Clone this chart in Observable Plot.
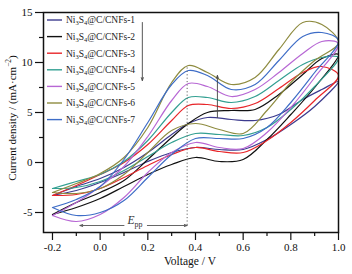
<!DOCTYPE html>
<html><head><meta charset="utf-8">
<script src="https://cdn.jsdelivr.net/npm/d3@7"></script>
<script src="https://cdn.jsdelivr.net/npm/@observablehq/plot@0.6"></script>
<style>body{margin:0;background:#fff} svg{display:block}</style>
</head><body><div id="chart"></div>
<script>
// Series
const seriesNames = ["Ni3S4@C/CNFs-1","Ni3S4@C/CNFs-2","Ni3S4@C/CNFs-3","Ni3S4@C/CNFs-4","Ni3S4@C/CNFs-5","Ni3S4@C/CNFs-6","Ni3S4@C/CNFs-7"];
const seriesColors = ["#3d3b8e","#111111","#e8262a","#33a092","#b767d4","#8e8b3f","#3e6dc7"];

// Forward (upper) branch voltages, V
const upperV = [-0.2,-0.1,0,0.1,0.2,0.3,0.37,0.45,0.55,0.65,0.75,0.85,0.93,1.0];
// Reverse (lower) branch voltages, V
const lowerV = [1.0,0.9,0.8,0.7,0.6,0.5,0.4,0.3,0.2,0.1,0,-0.1,-0.2];

// Current density, mA/cm2
const up1 = [-3.3,-2.4,-1.6,-0.5,1.0,2.8,3.9,4.5,4.3,4.2,4.8,6.3,7.3,8.1];
const up2 = [-5.2,-4.0,-3.0,-1.8,0.3,2.5,3.9,5.0,5.2,5.3,6.8,8.8,10.4,10.8];
const up3 = [-3.3,-2.3,-1.2,0.0,1.8,4.2,5.7,5.8,5.4,5.9,7.4,9.0,9.6,8.7];
const up4 = [-2.6,-1.9,-1.2,0.1,2.2,5.0,6.5,6.5,6.0,6.6,8.2,9.8,10.5,10.5];
const up5 = [-5.3,-4.0,-2.4,-0.4,2.6,6.2,7.9,7.6,6.6,7.3,9.0,10.9,12.1,11.9];
const up6 = [-3.0,-2.1,-1.1,0.5,3.5,8.0,9.7,9.0,7.8,8.5,11.3,14.0,13.8,12.0];
const up7 = [-4.5,-3.7,-2.4,0.3,4.0,7.8,9.2,8.7,7.3,7.8,10.2,12.6,13.0,12.2];

const dn1 = [8.1,5.6,3.8,2.3,1.3,1.3,1.5,1.0,0.1,-1.0,-2.0,-2.8,-3.3];
const dn2 = [10.8,7.5,4.8,2.3,0.3,0.1,0.5,-0.2,-1.2,-2.4,-3.6,-4.5,-5.2];
const dn3 = [8.7,6.2,4.0,2.2,1.0,1.1,1.5,0.8,-0.3,-1.5,-2.6,-3.2,-3.3];
const dn4 = [10.5,7.6,5.3,3.5,2.7,2.8,2.9,2.0,0.6,-0.8,-1.9,-2.5,-2.6];
const dn5 = [11.9,8.5,5.5,3.0,1.4,1.5,2.0,1.0,-1.0,-3.5,-5.2,-5.9,-5.3];
const dn6 = [12.0,10.2,8.0,5.2,2.9,3.3,3.9,3.2,1.0,-1.2,-2.6,-3.1,-3.0];
const dn7 = [12.2,9.0,6.0,3.5,2.4,2.4,2.4,0.8,-1.5,-3.8,-5.0,-5.3,-4.5];

// Annotations
const eppV = [-0.085, 0.365];      // E_pp arrow ends
const eppLevel = [-6.3];           // E_pp arrow level
const peakLine = [0.365, -6.3, 9.7]; // dotted line x, y1, y2
const trendArrows = [
  {x1: 0.177, y1: 14.0, x2: 0.177, y2: 8.2},
  {x1: 0.492, y1: 4.5, x2: 0.492, y2: 8.7}
];

// Ticks
const xTicks = [-0.2,0,0.2,0.4,0.6,0.8,1.0];
const xMinor = [-0.1,0.1,0.3,0.5,0.7,0.9];
const yTicks = [-5,0,5,10,15];
const yMinor = [-2.5,2.5,7.5,12.5];

const ups = [up1,up2,up3,up4,up5,up6,up7];
const dns = [dn1,dn2,dn3,dn4,dn5,dn6,dn7];
const rows = [];
seriesNames.forEach((s, k) => {
  upperV.forEach((v, j) => rows.push({s, v, i: ups[k][j]}));
  lowerV.forEach((v, j) => { if (j > 0) rows.push({s, v, i: dns[k][j]}); });
});

const eppArrows = [
  {x1: 0.10, y1: eppLevel[0], x2: eppV[0], y2: eppLevel[0]},
  {x1: 0.198, y1: eppLevel[0], x2: eppV[1], y2: eppLevel[0]}
];

const plot = Plot.plot({
  width: 352, height: 274,
  marginLeft: 43, marginRight: 14, marginTop: 12, marginBottom: 42,
  style: {fontFamily: "Liberation Serif, Times New Roman, serif", fontSize: "11px", color: "#111", background: "#fff"},
  x: {domain: [-0.2377, 1.0]},
  y: {domain: [-7, 15]},
  color: {domain: seriesNames, range: seriesColors},
  marks: [
    Plot.axisX({ticks: xTicks, tickSize: 8, tickPadding: 3, tickFormat: d => d.toFixed(1), label: null, strokeWidth: 1.2}),
    Plot.axisX({ticks: xMinor, tickSize: 4, text: null, label: null, strokeWidth: 1.2}),
    Plot.axisY({ticks: yTicks, tickSize: 8, tickPadding: 3, tickFormat: d => String(d), label: null, strokeWidth: 1.2}),
    Plot.axisY({ticks: yMinor, tickSize: 4, text: null, label: null, strokeWidth: 1.2}),
    Plot.line(rows, {x: "v", y: "i", z: "s", stroke: "s", curve: "catmull-rom", strokeWidth: 1.2}),
    Plot.ruleX([peakLine[0]], {y1: peakLine[1], y2: peakLine[2], stroke: "#666", strokeWidth: 1, strokeDasharray: "1.2,2.2"}),
    Plot.arrow(trendArrows, {x1: "x1", y1: "y1", x2: "x2", y2: "y2", stroke: "#444", strokeWidth: 0.9, headLength: 5, headAngle: 40}),
    Plot.arrow(eppArrows, {x1: "x1", y1: "y1", x2: "x2", y2: "y2", stroke: "#555", strokeWidth: 0.9, headLength: 5, headAngle: 40}),
    Plot.frame({stroke: "#111", strokeWidth: 1.5})
  ]
});

const svg = d3.select(plot);
const xs = plot.scale("x"), ys = plot.scale("y");

// E_pp label
const ep = svg.append("text")
  .attr("x", xs.apply(0.148)).attr("y", ys.apply(eppLevel[0]) - 1)
  .attr("text-anchor", "middle").attr("font-size", 11.5).attr("fill", "#333")
  .attr("font-family", "Liberation Serif, serif");
ep.append("tspan").attr("font-style", "italic").text("E");
ep.append("tspan").attr("font-size", 8).attr("dy", 3).text("pp");

// Axis titles
svg.append("text").attr("x", 190).attr("y", 265).attr("text-anchor", "middle")
  .attr("font-size", 11.5).attr("fill", "#111").text("Voltage / V");
const yl = svg.append("text").attr("transform", "translate(13,118) rotate(-90)")
  .attr("text-anchor", "middle").attr("dominant-baseline", "middle")
  .attr("font-size", 11).attr("fill", "#111");
yl.append("tspan").text("Current density / (mA·cm");
yl.append("tspan").attr("font-size", 7.5).attr("dy", -4).text("−2");
yl.append("tspan").attr("dy", 4).text(")");

// Legend
const lg = svg.append("g").attr("font-family", "Liberation Serif, serif").attr("font-size", 9.5).attr("fill", "#222").attr("text-anchor", "start");
seriesNames.forEach((name, k) => {
  const y = 20 + k * 16.6;
  lg.append("line").attr("x1", 47).attr("x2", 62).attr("y1", y).attr("y2", y)
    .attr("stroke", seriesColors[k]).attr("stroke-width", 1.4);
  const t = lg.append("text").attr("x", 66).attr("y", y + 3.3).attr("text-anchor", "start");
  const m = name.match(/^Ni(\d)S(\d)(.*)$/);
  t.append("tspan").text("Ni");
  t.append("tspan").attr("font-size", 6.5).attr("dy", 2).text(m[1]);
  t.append("tspan").attr("dy", -2).text("S");
  t.append("tspan").attr("font-size", 6.5).attr("dy", 2).text(m[2]);
  t.append("tspan").attr("dy", -2).text(m[3]);
});

document.getElementById("chart").appendChild(plot);
</script>
</body></html>
